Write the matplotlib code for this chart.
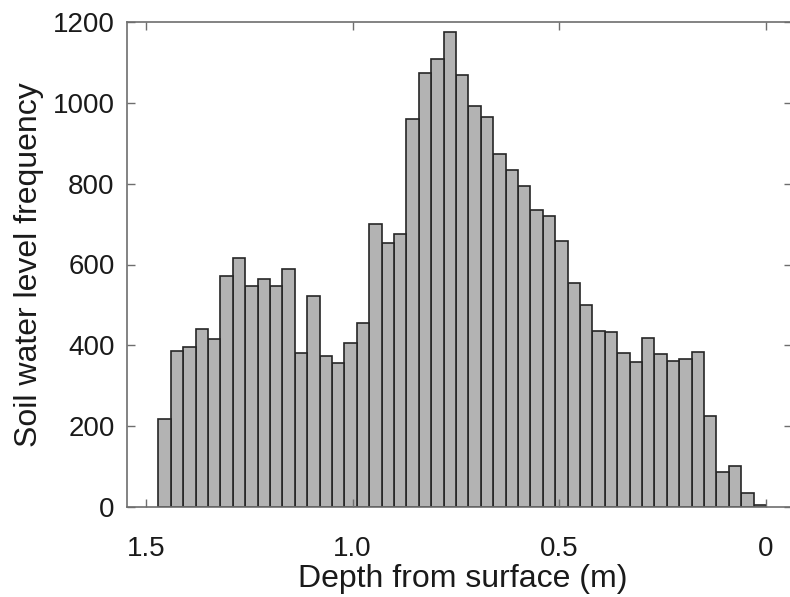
import numpy as np
import matplotlib
matplotlib.use('Agg')
import matplotlib.pyplot as plt

plt.rcParams['font.family'] = ['Liberation Sans', 'DejaVu Sans']

# histogram bins: depth from surface (m), 0.03 m wide, 0 to 1.47
bin_edges = np.round(np.arange(0, 1.47 + 0.001, 0.03), 2)

# counts, ordered from deepest (1.47-1.44) to shallowest (0.03-0)
counts_deep_to_shallow = [
    217, 386, 395, 440, 416, 571, 615, 547, 564, 548,
    588, 380, 522, 373, 356, 406, 455, 700, 652, 676,
    959, 1075, 1109, 1176, 1070, 993, 965, 873, 835, 794,
    736, 720, 659, 555, 499, 435, 432, 382, 359, 418,
    378, 361, 367, 383, 226, 87, 102, 35, 6,
]
counts = counts_deep_to_shallow[::-1]  # align with ascending bin_edges

xticks = [1.5, 1.0, 0.5, 0]
xtick_labels = ['1.5', '1.0', '0.5', '0']
yticks = [0, 200, 400, 600, 800, 1000, 1200]

fig = plt.figure(figsize=(7.9, 5.97), dpi=100)
W, H = 790, 597
ax = fig.add_axes([127 / W, (H - 507) / H, (792 - 127) / W, (507 - 22) / H])

ax.hist(bin_edges[:-1], bins=bin_edges, weights=counts,
        color='#b3b3b3', edgecolor='#262626', linewidth=1.2)

ax.set_xlim(1.546, -0.063)
ax.set_ylim(0, 1200)
ax.set_xticks(xticks)
ax.set_xticklabels(xtick_labels)
ax.set_yticks(yticks)

axis_col = '#6e6e6e'
for s in ax.spines.values():
    s.set_color(axis_col)
    s.set_linewidth(1.2)
ax.tick_params(direction='in', length=6, width=1.0, color=axis_col,
               top=True, right=True, labelsize=20, labelcolor='#1a1a1a')
ax.tick_params(axis='x', pad=21)
ax.tick_params(axis='y', pad=9)

ax.set_xlabel('Depth from surface (m)', fontsize=23, color='#1a1a1a')
ax.set_ylabel('Soil water level frequency', fontsize=23, color='#1a1a1a')
ax.xaxis.set_label_coords(0.505, -0.118)
ax.yaxis.set_label_coords(-0.125, 0.5)

fig.savefig('out.png', dpi=100)
